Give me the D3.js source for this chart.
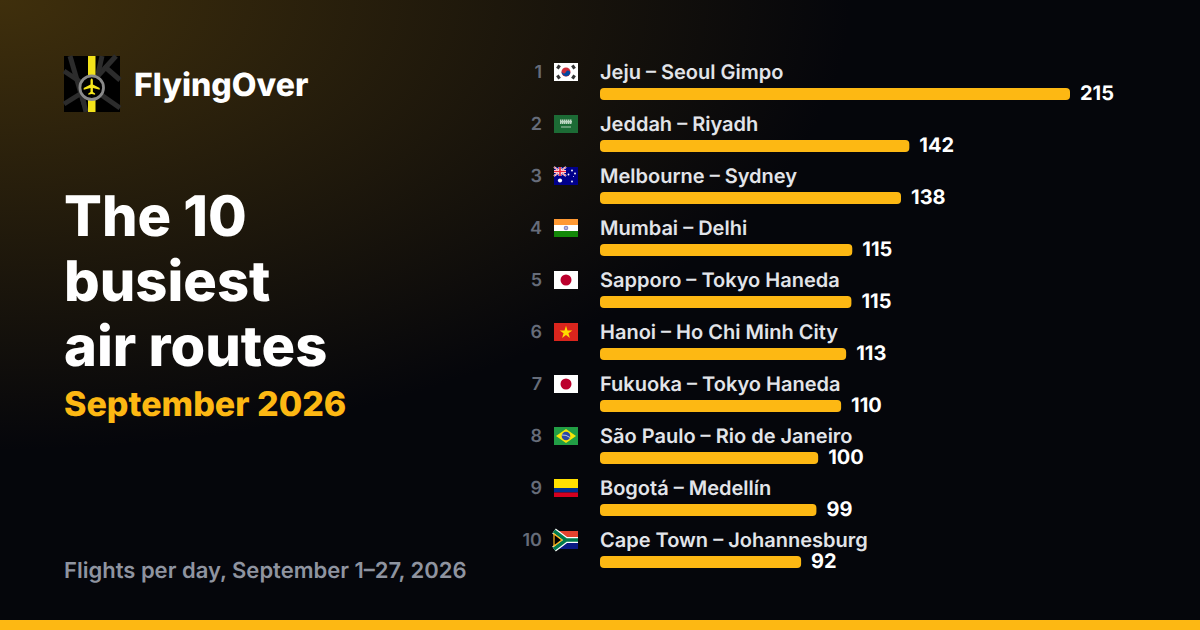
<!DOCTYPE html>
<html><head><meta charset="utf-8">
<script src="https://cdn.jsdelivr.net/npm/d3@7"></script>
<style>html,body{margin:0;padding:0;background:#05060b;overflow:hidden}svg{display:block}text{font-family:Inter,sans-serif;text-rendering:geometricPrecision}</style>
</head><body><div id="c"></div>
<script>
const routes=["Jeju – Seoul Gimpo","Jeddah – Riyadh","Melbourne – Sydney","Mumbai – Delhi","Sapporo – Tokyo Haneda","Hanoi – Ho Chi Minh City","Fukuoka – Tokyo Haneda","São Paulo – Rio de Janeiro","Bogotá – Medellín","Cape Town – Johannesburg"];
const flights=[215,141.5,137.7,115.4,115,112.6,110.3,99.8,99,92];
const countries=["kr","sa","au","in","jp","vn","jp","br","co","za"];
const titleLines=["The 10","busiest","air routes"];
const subtitle="September 2026";
const brand="FlyingOver";
const footnote="Flights per day, September 1–27, 2026";
const W=1200,H=630,amber="#fdb813";
const svg=d3.select("#c").append("svg").attr("width",W).attr("height",H);
const defs=svg.append("defs");
const g1=defs.append("radialGradient").attr("id","glow").attr("gradientUnits","userSpaceOnUse").attr("cx",0).attr("cy",0).attr("r",1).attr("gradientTransform","scale(850 450)");
[[0,"#3f2f0c"],[1,"#05060b"]].forEach(s=>g1.append("stop").attr("offset",s[0]).attr("stop-color",s[1]));
svg.append("rect").attr("width",W).attr("height",H).attr("fill","#05060b");
svg.append("rect").attr("width",W).attr("height",H).attr("fill","url(#glow)");
svg.append("rect").attr("y",620).attr("width",W).attr("height",10).attr("fill",amber);
// logo
const lg=svg.append("g").attr("transform","translate(64,56)");
lg.append("rect").attr("width",56).attr("height",56).attr("fill","#000");
const rw="#2c2c2c";
[[[6,0],[20,48]],[[0,15],[18,27]],[[52,0],[32,22]],[[38,0],[34,18]],[[40,10],[56,24]],[[36,38],[56,52]],[[0,48],[16,38]],[[18,40],[22,56]]].forEach(p=>lg.append("path").attr("d",d3.line()(p)).attr("stroke",rw).attr("stroke-width",5).attr("fill","none"));
lg.append("rect").attr("x",24).attr("width",7.500).attr("height",56).attr("fill","#f2e21a");
lg.append("circle").attr("cx",27.700).attr("cy",31.700).attr("r",11.800).attr("fill","#000").attr("stroke","#8a8a8a").attr("stroke-width",2.800);
lg.append("path").attr("d","M27.700 22.500c.8 0 1.200 1.100 1.200 2.700v3.300l6.800 3.600v1.700l-6.800-1.900v4.200l2.200 1.500v1.200l-3.400-.8-3.400.8v-1.200l2.200-1.500v-4.200l-6.800 1.900v-1.700l6.800-3.600v-3.300c0-1.600.4-2.700 1.200-2.700z").attr("fill","#f7e71b");
// text
const txt=(x,y,s,size,w,fill,ls)=>svg.append("text").attr("x",x).attr("y",y).attr("font-size",size).attr("font-weight",w).attr("fill",fill).attr("letter-spacing",ls||0).text(s);
txt(134,96,brand,32,800,"#fff");
const tl=d3.scalePoint().domain(titleLines).range([236,366]);
titleLines.forEach(s=>txt(64,tl(s),s,56,800,"#fff"));
txt(64,416,subtitle,34,800,amber);
txt(64,578,footnote,22,600,"#8f94a0");
// rows
const x=d3.scaleLinear().domain([0,215]).range([600,1070]);
const y=d3.scaleBand().domain(d3.range(10)).range([54,574]);
const fmt=d3.format(".0f");
const flag={
 kr(g){g.append("rect").attr("width",24).attr("height",18).attr("fill","#fff");
  g.append("circle").attr("cx",12).attr("cy",9).attr("r",4.500).attr("fill","#cd2e3a");
  g.append("path").attr("d","M7.900 7.200a4.500 4.500 0 0 0 8.200 3.600a2.200 2.200 0 0 0-4.100-1.800a2.200 2.200 0 0 1-4.100-1.800z").attr("fill","#0047a0");
  [[4.500,4],[19.500,4],[4.500,14],[19.500,14]].forEach(c=>g.append("rect").attr("x",c[0]-2).attr("y",c[1]-1.500).attr("width",4).attr("height",3).attr("fill","#333").attr("transform",`rotate(${(c[0]<12)===(c[1]<9)?-56:56} ${c[0]} ${c[1]})`));},
 sa(g){g.append("rect").attr("width",24).attr("height",18).attr("fill","#1c6b35");
  [6,8,10,12,14,16].forEach(a=>g.append("rect").attr("x",a).attr("y",4.500).attr("width",1.500).attr("height",4.500).attr("fill","#bcd5c2"));
  g.append("rect").attr("x",6).attr("y",6).attr("width",12).attr("height",1.500).attr("fill","#bcd5c2");
  g.append("rect").attr("x",7).attr("y",11.500).attr("width",10).attr("height",1).attr("fill","#a9c9b1");},
 au(g){g.append("rect").attr("width",24).attr("height",18).attr("fill","#00008b");
  g.append("path").attr("d","M0 0L12 9M12 0L0 9").attr("stroke","#fff").attr("stroke-width",2);
  g.append("path").attr("d","M0 0L12 9M12 0L0 9").attr("stroke","#e8243c").attr("stroke-width",.7);
  g.append("path").attr("d","M6 0V9M0 4.500H12").attr("stroke","#fff").attr("stroke-width",3);
  g.append("path").attr("d","M6 0V9M0 4.500H12").attr("stroke","#e8243c").attr("stroke-width",1.700);
  [[6,13.500,2.100],[18,3.500,.9],[18,14.500,.9],[14.500,7.500,.9],[21,6.500,.9],[19.500,9.500,.5]].forEach(s=>g.append("circle").attr("cx",s[0]).attr("cy",s[1]).attr("r",s[2]).attr("fill","#fff"));},
 in(g){[["#ff9933",0],["#fff",6],["#138808",12]].forEach(b=>g.append("rect").attr("y",b[1]).attr("width",24).attr("height",6).attr("fill",b[0]));
  g.append("circle").attr("cx",12).attr("cy",9).attr("r",2.300).attr("fill","#8a8ac6");g.append("circle").attr("cx",12).attr("cy",9).attr("r",.7).attr("fill","#fff");},
 jp(g){g.append("rect").attr("width",24).attr("height",18).attr("fill","#fff");g.append("circle").attr("cx",12).attr("cy",9).attr("r",5.500).attr("fill","#bc002d");},
 vn(g){g.append("rect").attr("width",24).attr("height",18).attr("fill","#da251d");
  g.append("path").attr("d",d3.symbol(d3.symbolStar,50)()).attr("transform","translate(12,9.500)").attr("fill","#ffdd00");},
 br(g){g.append("rect").attr("width",24).attr("height",18).attr("fill","#229e45");
  g.append("path").attr("d","M12 2L22 9L12 16L2 9Z").attr("fill","#f8e509");
  g.append("circle").attr("cx",12).attr("cy",9).attr("r",4.300).attr("fill","#2b49a3");
  g.append("path").attr("d","M8 8Q12 7.500 16 10.500").attr("stroke","#dfe6f0").attr("stroke-width",.8).attr("fill","none");},
 co(g){[["#ffe000",0,9],["#00318f",9,4.500],["#d4001f",13.500,4.500]].forEach(b=>g.append("rect").attr("y",b[1]).attr("width",24).attr("height",b[2]).attr("fill",b[0]));},
 za(g){g.append("rect").attr("width",24).attr("height",9).attr("fill","#e4432f");
  g.append("rect").attr("y",9).attr("width",24).attr("height",9).attr("fill","#0a1a84");
  g.append("path").attr("d","M0 0L12 9L0 18M12 9H24").attr("stroke","#fff").attr("stroke-width",6).attr("fill","none");
  g.append("path").attr("d","M0 0L12 9L0 18M12 9H24").attr("stroke","#007a4d").attr("stroke-width",3.600).attr("fill","none");
  g.append("path").attr("d","M0 3L8 9L0 15Z").attr("fill","#000").attr("stroke","#ffb81c").attr("stroke-width",1.200);}
};
const row=svg.selectAll("g.row").data(routes).join("g").attr("class","row");
row.each(function(d,i){
 const g=d3.select(this),t=y(i);
 g.append("text").attr("x",542).attr("y",t+24).attr("text-anchor","end").attr("font-size",18).attr("font-weight",600).attr("fill","#666c79").text(i+1);
 const f=g.append("g").attr("transform",`translate(554,${t+9})`);flag[countries[i]](f);
 g.append("text").attr("x",600).attr("y",t+25).attr("font-size",20).attr("font-weight",600).attr("fill","#e2e4e9").text(d);
 g.append("rect").attr("x",x(0)).attr("y",t+34).attr("width",x(flights[i])-x(0)).attr("height",12).attr("rx",4).attr("fill",amber);
 g.append("text").attr("x",x(flights[i])+10).attr("y",t+46).attr("font-size",20).attr("font-weight",700).attr("fill","#fff").text(fmt(flights[i]));
});
</script></body></html>
